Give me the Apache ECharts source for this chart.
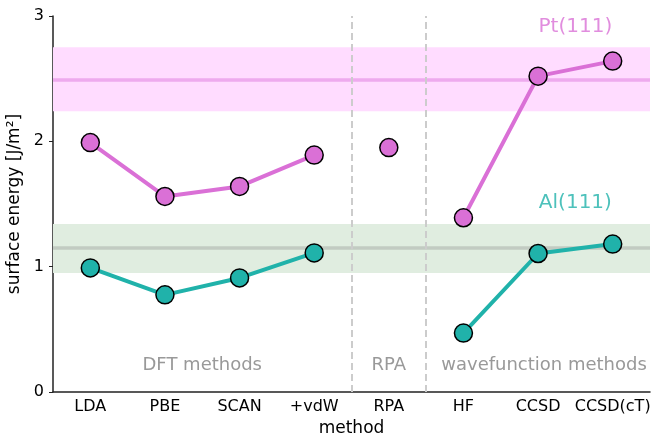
<!DOCTYPE html>
<html><head><meta charset="utf-8">
<script src="https://cdn.jsdelivr.net/npm/echarts@6/dist/echarts.min.js"></script>
<style>html,body{margin:0;padding:0;background:#fff}#c{width:664px;height:437px}</style>
</head><body><div id="c"></div>
<script>
const categories = ['LDA','PBE','SCAN','+vdW','RPA','HF','CCSD','CCSD(cT)'];
const ptValues = [1.99, 1.56, 1.64, 1.89, 1.95, 1.39, 2.52, 2.64];
const alValues = [0.99, 0.775, 0.91, 1.11, null, 0.47, 1.105, 1.18];
const groups = [[0,3],[4,4],[5,7]];
const ptRef = 2.49, ptLow = 2.24, ptHigh = 2.75;
const alRef = 1.145, alLow = 0.95, alHigh = 1.34;
const dividers = [3.5, 4.5];
const groupLabels = [['DFT methods', 1.5], ['RPA', 4], ['wavefunction methods', 6.08]];
const yTicks = [0, 1, 2, 3];

const FONT = 'DejaVu Sans';
const PT = '#da70d6', AL = '#20b2aa';

function segSeries(vals, color, name) {
  return groups.map(([a,b]) => ({
    type: 'line', name: name, xAxisIndex: 0, yAxisIndex: 0,
    data: vals.map((v,i) => (i>=a && i<=b) ? v : null),
    connectNulls: false, symbol: 'circle', symbolSize: 18,
    lineStyle: {color: color, width: 4},
    itemStyle: {color: color, borderColor: '#000', borderWidth: 1.5},
    z: 5, animation: false
  }));
}

const chart = echarts.init(document.getElementById('c'), null, {renderer: 'canvas'});
chart.setOption({
  animation: false,
  textStyle: {fontFamily: FONT},
  grid: {left: 53, right: 14, top: 16, bottom: 45, containLabel: false, outerBoundsMode: 'none'},
  xAxis: [{
    type: 'category', data: categories, boundaryGap: true,
    axisLine: {onZero: false, lineStyle: {color: '#222', width: 1.5}},
    axisTick: {inside: true, length: 4, alignWithLabel: true, interval: 0, lineStyle: {color: '#222'}},
    axisLabel: {color: '#000', fontSize: 16, fontFamily: FONT, margin: 7, interval: 0},
    name: 'method', nameLocation: 'middle', nameGap: 27,
    nameTextStyle: {color: '#000', fontSize: 17, fontFamily: FONT},
    splitLine: {show: false}
  }, {
    type: 'value', min: -0.5, max: 7.5, show: false
  }],
  yAxis: [{
    type: 'value', min: yTicks[0], max: yTicks[yTicks.length-1], interval: 1,
    axisLine: {show: true, onZero: false, lineStyle: {color: '#222', width: 1.5}},
    axisTick: {show: true, length: 4, lineStyle: {color: '#222'}},
    axisLabel: {color: '#000', fontSize: 16, fontFamily: FONT, margin: 9},
    splitLine: {show: false},
    name: 'surface energy [J/m²]', nameLocation: 'middle', nameGap: 16, nameRotate: 90,
    nameTextStyle: {color: '#000', fontSize: 17, fontFamily: FONT}
  }],
  series: [
    {
      type: 'line', xAxisIndex: 1, yAxisIndex: 0, data: [], z: 1,
      markArea: {silent: true, itemStyle: {color: '#ffdcff'},
        data: [[{yAxis: ptLow}, {yAxis: ptHigh}]]},
      markLine: {silent: true, symbol: 'none', label: {show: false},
        lineStyle: {color: '#eeaaee', width: 3.5, type: 'solid'},
        data: [{yAxis: ptRef}]}
    },
    {
      type: 'line', xAxisIndex: 1, yAxisIndex: 0, data: [], z: 1,
      markArea: {silent: true, itemStyle: {color: '#e0ede0'},
        data: [[{yAxis: alLow}, {yAxis: alHigh}]]},
      markLine: {silent: true, symbol: 'none', label: {show: false},
        lineStyle: {color: '#c2cbc2', width: 3.5, type: 'solid'},
        data: [{yAxis: alRef}]}
    },
    {
      type: 'line', xAxisIndex: 1, yAxisIndex: 0, data: [], z: 2,
      markLine: {silent: true, symbol: 'none', label: {show: false},
        lineStyle: {color: '#cccccc', width: 2, type: [7, 4]},
        data: dividers.map(d => ({xAxis: d}))}
    },
    ...segSeries(ptValues, PT, 'Pt(111)'),
    ...segSeries(alValues, AL, 'Al(111)'),
    {
      type: 'scatter', xAxisIndex: 1, yAxisIndex: 0, symbolSize: 0, z: 6,
      data: [
        {value: [6.5, 2.91], label: {formatter: 'Pt(111)', color: PT}},
        {value: [6.5, 1.51], label: {formatter: 'Al(111)', color: AL}}
      ],
      label: {show: true, position: 'inside', fontSize: 20, fontFamily: FONT}
    },
    {
      type: 'scatter', xAxisIndex: 1, yAxisIndex: 0, symbolSize: 0, z: 6,
      data: groupLabels.map(g => ({value: [g[1], 0.21], label: {formatter: g[0]}})),
      label: {show: true, position: 'inside', fontSize: 18, fontFamily: FONT, color: '#808080'}
    }
  ]
});
</script></body></html>
